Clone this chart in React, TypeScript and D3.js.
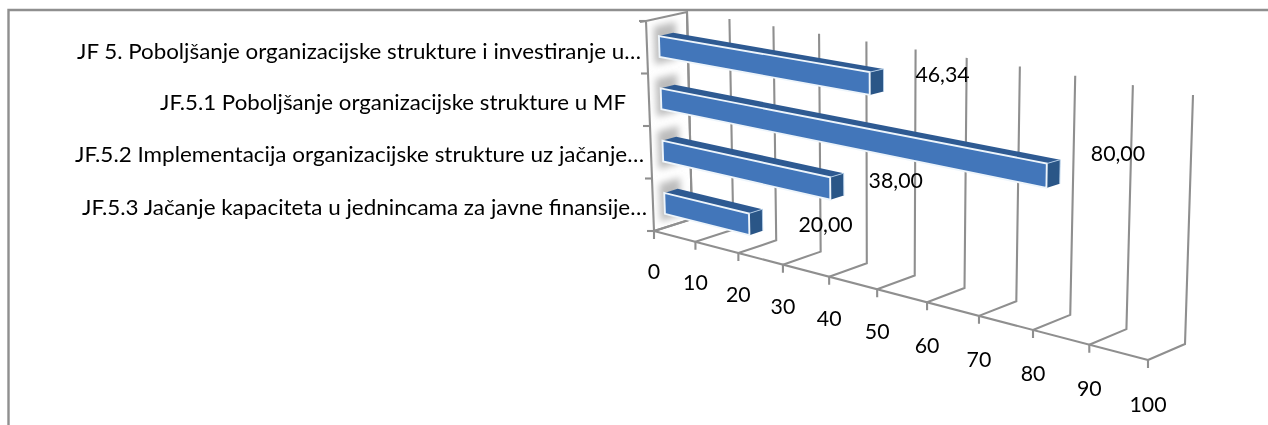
import React from "react";
import * as d3 from "d3";

// ---- data ----
const categories = [
  "JF.5.3 Jačanje kapaciteta u jednincama za javne finansije…",
  "JF.5.2 Implementacija organizacijske strukture uz jačanje…",
  "JF.5.1 Poboljšanje organizacijske strukture u MF",
  "JF 5. Poboljšanje organizacijske strukture i investiranje u…",
];
const values = [20, 38, 80, 46.34];
const valueLabels = ["20,00", "38,00", "80,00", "46,34"];
const xTicks = [0, 10, 20, 30, 40, 50, 60, 70, 80, 90, 100];

// ---- layout ----
const W = 1268, H = 425;
const GREY = "#8f8f8f";
const FONT = "Lato, Carlito, sans-serif";
const FS = 21.3;
type Pt = [number, number];
const F0: Pt = [654, 231], F1: Pt = [1148, 360];
const B0: Pt = [692, 219], B1: Pt = [1185, 344];
const T0: Pt = [687, 12], T1: Pt = [1193, 95];
const TF0: Pt = [646, 21], TF1: Pt = [1155, 104];
const K = 0.176;
const catLabelX = [647, 644, 626, 641];
const catLabelY = [207, 154, 102, 51];
const catLabelW = [565, 569, 466, 564];
const valNudge: Pt[] = [[63, 4], [52, -4], [58, -19], [59, -6]];
const BAR_START = 0.065, BAR_H = 0.1, D0 = 0.3, D1 = 0.65;

const tScale = d3.scaleLinear().domain([0, 100]).range([0, 1]);
const warp = (v: number) => {
  const t = tScale(v);
  return ((t / (1 - K * t)) * (1 - K));
};
const mix = (a: Pt, b: Pt, u: number): Pt => [a[0] + (b[0] - a[0]) * u, a[1] + (b[1] - a[1]) * u];
const P = (v: number, h: number, d: number): Pt => {
  const w = warp(v);
  const front = mix(mix(F0, F1, w), mix(TF0, TF1, w), h);
  const back = mix(mix(B0, B1, w), mix(T0, T1, w), h);
  return mix(front, back, d);
};
const line = d3.line<Pt>();
const poly = (pts: Pt[]) => line(pts) + "Z";

export default function App() {
  const bandStep = 1 / categories.length;
  return (
    <svg width={W} height={H} viewBox={`0 0 ${W} ${H}`} style={{ position: "absolute", left: 0, top: 0, background: "#fff" }}>
      <defs>
        <filter id="soft" x="-2%" y="-2%" width="104%" height="104%">
          <feGaussianBlur stdDeviation="0.45" />
        </filter>
        <filter id="blob" x="-50%" y="-50%" width="200%" height="200%">
          <feGaussianBlur stdDeviation="3.5" />
        </filter>
      </defs>
      <g filter="url(#soft)">
        <path d={line([[8.5, H], [8.5, 10], [W, 10]])!} fill="none" stroke={GREY} strokeWidth={2.4} />
        <g fill="none" stroke={GREY} strokeWidth={2.1}>
          {/* walls */}
          <path d={line([[640, TF0[1] + 1], TF0, T0, B0, F0, TF0])!} />
          {d3.range(0, categories.length + 1).map((i) => {
            const p = P(0, i * bandStep, 0);
            return <path key={i} d={line([[p[0] - 7, p[1]], p])!} />;
          })}
          <path d={line([F0, F1])!} />
          {xTicks.map((v) => {
            const f = P(v, 0, 0), b = P(v, 0, 1), t = P(v, 1, 1);
            return <path key={v} d={line([[f[0], f[1] + 8], f, b, t])!} />;
          })}
        </g>
        {/* shadows behind the bars */}
        {values.map((_, i) => {
          const h0 = i * bandStep + BAR_START - 0.03;
          const h1 = i * bandStep + BAR_START + BAR_H + 0.05;
          return (
            <path key={i} filter="url(#blob)" fill="#bcbcbc"
              d={poly([P(0, h0, 0.18), P(0, h1, 0.18), P(0, h1, 0.72), P(0, h0, 0.72)])} />
          );
        })}
        {/* bars */}
        {values.map((val, i) => {
          const h0 = i * bandStep + BAR_START, h1 = h0 + BAR_H;
          return (
            <g key={i}>
              <path d={poly([P(0, h1, D0), P(0, h1, D1), P(val, h1, D1), P(val, h1, D0)])} fill="#2e5a92" />
              <path d={poly([P(val, h0, D0), P(val, h1, D0), P(val, h1, D1), P(val, h0, D1)])} fill="#2c5687" />
              <path d={poly([P(0, h0, D0), P(0, h1, D0), P(val, h1, D0), P(val, h0, D0)])} fill="#4276ba" />
              <path d={poly([P(0, h0, D0), P(0, h1, D0), P(val, h1, D0), P(val, h0, D0)])} fill="none" stroke="#eef5fb" strokeWidth={1.9} />
              <path d={line([P(val, h1, D0), P(val, h1, D1), P(val, h0, D1)])!} fill="none" stroke="#b5d0ea" strokeWidth={0.9} />
            </g>
          );
        })}
        {/* text */}
        <g fontFamily={FONT} fontSize={FS} fill="#000">
          {categories.map((c, i) => (
            <text key={c} x={catLabelX[i]} y={catLabelY[i]} textAnchor="end" dominantBaseline="central"
              textLength={catLabelW[i]} lengthAdjust="spacingAndGlyphs">{c}</text>
          ))}
          {xTicks.map((v) => {
            const f = P(v, 0, 0);
            return <text key={v} x={f[0]} y={f[1] + 40 + tScale(v) * 4} textAnchor="middle" dominantBaseline="central">{v}</text>;
          })}
          {values.map((val, i) => {
            const e = P(val, 0 + i * bandStep + BAR_START + BAR_H / 2, D1);
            return <text key={i} x={e[0] + valNudge[i][0]} y={e[1] + valNudge[i][1]} textAnchor="middle" dominantBaseline="central">{valueLabels[i]}</text>;
          })}
        </g>
      </g>
    </svg>
  );
}
